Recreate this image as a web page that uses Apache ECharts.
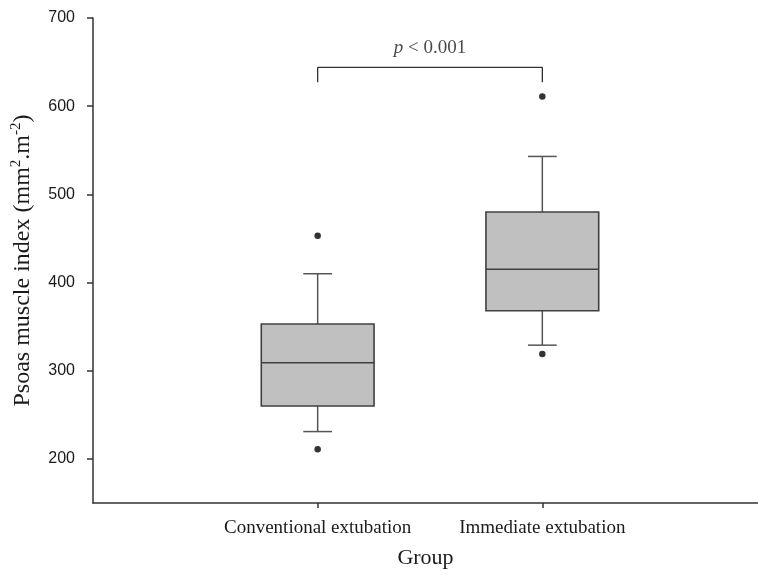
<!DOCTYPE html>
<html>
<head>
<meta charset="utf-8">
<script src="https://cdn.jsdelivr.net/npm/echarts@6/dist/echarts.min.js"></script>
<style>
html,body{margin:0;padding:0;background:#fff;}
#chart{width:758px;height:574px;}
</style>
</head>
<body>
<div id="chart"></div>
<script>
// ---- data ----
const categories = ['Conventional extubation', 'Immediate extubation'];
const categoryPositions = [0, 1];
// box statistics per group
const lowerWhisker = [231, 329];
const q1Values = [260, 368];
const medianValues = [309, 415];
const q3Values = [353, 480];
const upperWhisker = [410, 543];
// outliers: [group index, value]
const outliers = [[0, 453], [0, 211], [1, 611], [1, 319]];
const yTicks = [200, 300, 400, 500, 600, 700];
const yMin = 150, yMax = 700;
const bracketLow = 627, bracketHigh = 644;
const pLabelValue = 666;
const pLabelText = '{i|p}{n| < 0.001}';

const boxData = categoryPositions.map((x, i) => [x, lowerWhisker[i], q1Values[i], medianValues[i], q3Values[i], upperWhisker[i]]);
const bracketData = [[categoryPositions[0], bracketLow], [categoryPositions[0], bracketHigh], [categoryPositions[1], bracketHigh], [categoryPositions[1], bracketLow]];

const chart = echarts.init(document.getElementById('chart'));
const BOX_W = 0.502, CAP_W = 0.128;
const serif = '"Liberation Serif", "Times New Roman", serif';
const sans = '"Liberation Sans", Arial, sans-serif';
const txt = '#1a1a1a';

const option = {
  animation: false,
  backgroundColor: '#fff',
  grid: { left: 93, right: 0, top: 18, bottom: 71, outerBoundsMode: 'none' },
  xAxis: {
    type: 'value',
    min: -1, max: 1.96,
    splitLine: { show: false },
    axisLine: { show: true, onZero: false, lineStyle: { color: '#333', width: 1.5 } },
    axisTick: { show: true, inside: false, length: 5, customValues: categoryPositions, lineStyle: { color: '#333', width: 1.5 } },
    axisLabel: {
      customValues: categoryPositions,
      formatter: v => { const i = categoryPositions.indexOf(v); return i >= 0 ? categories[i] : ''; },
      color: txt, fontFamily: serif, fontSize: 19, margin: 16
    },
    name: 'Group', nameLocation: 'middle', nameGap: 44,
    nameTextStyle: { color: txt, fontFamily: serif, fontSize: 22 }
  },
  yAxis: {
    type: 'value',
    min: yMin, max: yMax,
    splitLine: { show: false },
    axisLine: { show: true, onZero: false, lineStyle: { color: '#333', width: 1.5 } },
    axisTick: { show: true, inside: false, length: 6, customValues: yTicks, lineStyle: { color: '#333', width: 1.5 } },
    axisLabel: { customValues: yTicks, color: txt, fontFamily: sans, fontSize: 16, margin: 18 },
    name: 'Psoas muscle index (mm{sup|2}.m{sup|-2})',
    nameLocation: 'middle', nameGap: 53, nameRotate: 90,
    nameTextStyle: {
      color: txt, fontFamily: serif, fontSize: 24, lineHeight: 29,
      rich: { sup: { fontFamily: serif, fontSize: 15, color: txt, verticalAlign: 'top', lineHeight: 29 } }
    }
  },
  series: [
    {
      type: 'custom',
      data: boxData,
      encode: { x: 0, y: [1, 2, 3, 4, 5] },
      z: 3,
      renderItem: function (params, api) {
        const x = api.value(0);
        const low = api.coord([x, api.value(1)]);
        const q1 = api.coord([x, api.value(2)]);
        const med = api.coord([x, api.value(3)]);
        const q3 = api.coord([x, api.value(4)]);
        const high = api.coord([x, api.value(5)]);
        const cx = low[0];
        const hb = api.size([BOX_W, 0])[0] / 2;
        const hc = api.size([CAP_W, 0])[0] / 2;
        const ls = { stroke: '#555', lineWidth: 1.5 };
        return {
          type: 'group',
          children: [
            { type: 'line', shape: { x1: cx, y1: high[1], x2: cx, y2: q3[1] }, style: ls },
            { type: 'line', shape: { x1: cx, y1: q1[1], x2: cx, y2: low[1] }, style: ls },
            { type: 'line', shape: { x1: cx - hc, y1: high[1], x2: cx + hc, y2: high[1] }, style: ls },
            { type: 'line', shape: { x1: cx - hc, y1: low[1], x2: cx + hc, y2: low[1] }, style: ls },
            { type: 'rect', shape: { x: cx - hb, y: q3[1], width: 2 * hb, height: q1[1] - q3[1] }, style: { fill: '#c0c0c0', stroke: '#404040', lineWidth: 1.6 } },
            { type: 'line', shape: { x1: cx - hb, y1: med[1], x2: cx + hb, y2: med[1] }, style: { stroke: '#404040', lineWidth: 1.6 } }
          ]
        };
      }
    },
    {
      type: 'scatter',
      data: outliers,
      symbol: 'circle', symbolSize: 6.5,
      itemStyle: { color: '#000' },
      z: 4
    },
    {
      type: 'line',
      data: bracketData,
      symbol: 'none',
      lineStyle: { color: '#333', width: 1.3 },
      z: 4
    },
    {
      type: 'scatter',
      data: [[(categoryPositions[0] + categoryPositions[1]) / 2, pLabelValue]],
      symbolSize: 0,
      label: {
        show: true, position: 'inside',
        formatter: pLabelText,
        color: txt, fontFamily: serif, fontSize: 19,
        rich: {
          i: { fontStyle: 'italic', fontFamily: serif, fontSize: 19, color: txt },
          n: { fontFamily: serif, fontSize: 19, color: txt }
        }
      }
    }
  ]
};
chart.setOption(option);
</script>
</body>
</html>
